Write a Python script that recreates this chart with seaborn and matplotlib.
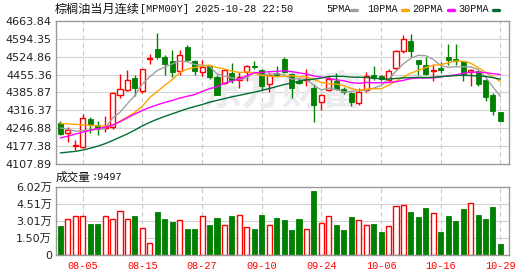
import numpy as np
import pandas as pd
import matplotlib
matplotlib.use("Agg")
import matplotlib.pyplot as plt
from matplotlib.lines import Line2D
import seaborn as sns

# ---------------- data ----------------
dates_ticks = ["08-05", "08-15", "08-27", "09-10", "09-24", "10-06", "10-16", "10-29"]
tick_idx = [3, 11, 19, 27, 35, 43, 51, 59]

opens = [4267.3, 4227.1, 4177.9, 4175.2, 4282.8, 4260.8, 4247.9, 4250.4, 4377.4, 4396.9,
         4442.2, 4390.4, 4517.4, 4555.0, 4523.9, 4509.6, 4468.2, 4561.5, 4507.0, 4464.3,
         4487.6, 4446.1, 4422.8, 4460.4, 4433.2, 4464.3, 4489.5, 4473.4, 4417.6, 4460.0,
         4516.1, 4456.5, 4431.9, 4434.5, 4402.1, 4347.7, 4395.6, 4429.3, 4400.8, 4383.9,
         4345.0, 4396.9, 4452.6, 4450.0, 4433.2, 4481.1, 4548.5, 4584.8, 4510.9, 4491.5,
         4470.7, 4481.1, 4522.6, 4516.1, 4507.0, 4464.3, 4468.2, 4434.5, 4377.4, 4310.1]
highs = [4274.0, 4250.5, 4202.5, 4302.0, 4290.6, 4273.8, 4295.8, 4387.8, 4457.8, 4473.3,
         4455.2, 4478.0, 4535.5, 4617.2, 4530.0, 4549.8, 4552.4, 4571.8, 4513.5, 4511.0,
         4492.8, 4452.6, 4474.6, 4499.3, 4466.9, 4494.1, 4509.7, 4477.3, 4464.3, 4489.0,
         4525.2, 4462.0, 4444.0, 4476.0, 4417.6, 4380.0, 4448.7, 4461.7, 4409.0, 4388.0,
         4403.4, 4465.6, 4487.6, 4455.0, 4478.5, 4550.0, 4610.7, 4614.6, 4512.0, 4523.9,
         4496.7, 4505.0, 4574.4, 4574.4, 4509.0, 4477.2, 4470.0, 4440.0, 4383.9, 4310.1]
lows = [4219.4, 4193.4, 4163.6, 4170.0, 4228.4, 4221.9, 4232.3, 4244.0, 4364.5, 4393.0,
        4371.0, 4383.9, 4496.7, 4517.4, 4452.6, 4446.1, 4455.2, 4507.0, 4455.2, 4448.7,
        4440.0, 4376.0, 4420.2, 4422.8, 4403.4, 4429.3, 4476.0, 4395.6, 4389.1, 4450.0,
        4460.0, 4363.2, 4417.0, 4411.2, 4269.9, 4319.1, 4390.0, 4396.0, 4380.0, 4334.7,
        4336.0, 4388.0, 4436.0, 4429.3, 4429.0, 4474.6, 4540.7, 4523.9, 4455.2, 4455.2,
        4431.9, 4460.0, 4494.1, 4494.0, 4429.3, 4412.4, 4412.4, 4351.5, 4299.7, 4276.4]
closes = [4225.8, 4240.1, 4181.8, 4286.0, 4264.7, 4244.0, 4253.0, 4382.6, 4399.5, 4434.5,
          4403.4, 4477.2, 4521.3, 4522.6, 4498.0, 4464.3, 4530.4, 4513.5, 4468.2, 4483.7,
          4447.4, 4377.4, 4472.0, 4435.8, 4444.8, 4487.6, 4486.0, 4412.5, 4453.9, 4455.0,
          4464.3, 4402.1, 4424.1, 4438.4, 4337.3, 4376.2, 4438.4, 4399.5, 4387.8, 4348.9,
          4387.8, 4448.7, 4442.2, 4438.4, 4468.2, 4545.9, 4593.9, 4548.5, 4496.7, 4459.1,
          4473.3, 4474.6, 4513.5, 4509.6, 4459.1, 4472.0, 4420.2, 4369.7, 4315.3, 4276.4]
# volume in 万
volumes = [2.56, 3.15, 3.44, 3.44, 2.73, 2.73, 3.44, 3.15, 3.85, 3.15,
           3.44, 2.35, 1.03, 3.79, 3.17, 2.91, 3.06, 2.29, 2.29, 3.44,
           2.64, 3.26, 2.62, 3.44, 3.53, 2.44, 2.29, 3.53, 2.62, 3.26,
           3.06, 2.20, 3.15, 2.26, 5.64, 2.79, 3.41, 2.64, 2.20, 3.35,
           3.06, 2.62, 2.73, 2.03, 2.53, 4.29, 4.38, 3.79, 3.35, 4.14,
           3.67, 2.00, 3.41, 3.00, 4.05, 4.56, 3.53, 3.17, 4.23, 0.95]

# moving-average values before the window is complete
ma5_lead = [4248, 4243, 4236, 4238]
ma10_lead = [4265, 4264, 4262, 4260, 4258, 4256, 4255, 4258, 4275]
ma20_lead = [4209, 4216, 4224, 4232, 4239, 4245, 4251, 4259, 4272, 4288,
             4302, 4316, 4328, 4338, 4347, 4355, 4364, 4371, 4378]
ma30_lead = [4151, 4154, 4157, 4162, 4169, 4177, 4187, 4199, 4212, 4225,
             4240, 4256, 4270, 4282, 4293, 4303, 4313, 4323, 4331, 4339,
             4348, 4355, 4362, 4369, 4375, 4381, 4387, 4394, 4401]

price_ticks = [4107.89, 4177.38, 4246.88, 4316.37, 4385.87, 4455.36, 4524.86, 4594.35, 4663.84]
vol_ticks = [0, 1.505, 3.01, 4.515, 6.02]
vol_tick_labels = ["0", "1.50万", "3.01万", "4.51万", "6.02万"]

title_cn = "棕榈油当月连续"
title_rest = "[MPM00Y] 2025-10-28 22:50"
watermark = "东方财富"

# ---------------- styling ----------------
sns.set_theme(style="white")
plt.rcParams["font.family"] = ["DejaVu Sans", "Noto Sans CJK SC"]

RED = "#ff0000"
GREEN = "#008000"
GRID = "#d2d2d2"
BORDER = "#9a9a9a"

W, H = 530, 276
fig = plt.figure(figsize=(W / 100, H / 100), dpi=100, facecolor="white")

def fx(x):
    return x / W

def fy(y):
    return 1 - y / H

ax_p = fig.add_axes([fx(56), fy(164), 453 / W, 143 / H])
ax_v = fig.add_axes([fx(56), fy(255), 453 / W, 68.3 / H])

n = len(closes)
idx = np.arange(n)
o = np.array(opens); c = np.array(closes); hi = np.array(highs); lo = np.array(lows)
up = c >= o

def mov(n_win, lead):
    s = pd.Series(closes).rolling(n_win).mean()
    s.iloc[:n_win - 1] = lead
    return s.values

ma = {
    "MA5": (mov(5, ma5_lead), "#a0a0a0"),
    "MA10": (mov(10, ma10_lead), "#ffa500"),
    "MA20": (mov(20, ma20_lead), "#ff00ff"),
    "MA30": (mov(30, ma30_lead), "#006e32"),
}

xlim = (-0.58, 60.15)

for ax in (ax_p, ax_v):
    ax.set_xlim(*xlim)
    ax.set_facecolor("white")
    for s in ax.spines.values():
        s.set_color(BORDER)
        s.set_linewidth(1.0)
    for t in tick_idx:
        ax.axvline(t, color="#c8c8c8", lw=0.8, ls=(0, (4, 3)), zorder=0)

# price panel
ax_p.set_ylim(price_ticks[0], price_ticks[-1])
for v in price_ticks[1:-1]:
    ax_p.axhline(v, color=GRID, lw=0.8, zorder=0)
ax_p.set_yticks(price_ticks)
ax_p.set_yticklabels([f"{v:.2f}" for v in price_ticks])
ax_p.set_xticks([])
ax_p.tick_params(axis="y", length=0, pad=3, labelsize=8, colors="#222222")

ax_p.text(0.5, 0.5, watermark, transform=ax_p.transAxes, fontsize=29, fontweight="bold",
          color="#ececf0", ha="center", va="center", zorder=0.5,
          family=["Noto Sans CJK SC"])

bw = 0.68
ax_p.vlines(idx[up], lo[up], hi[up], color=RED, lw=1.0, zorder=1)
ax_p.vlines(idx[~up], lo[~up], hi[~up], color=GREEN, lw=1.0, zorder=1)
body_lo = np.minimum(o, c)
body_h = np.maximum(np.abs(c - o), 2.0)
ax_p.bar(idx[up], body_h[up], bottom=body_lo[up], width=bw, facecolor="white",
         edgecolor=RED, linewidth=1.0, zorder=2)
ax_p.bar(idx[~up], body_h[~up], bottom=body_lo[~up], width=bw, facecolor=GREEN,
         edgecolor=GREEN, linewidth=0.6, zorder=2)

for name, (vals, col) in ma.items():
    sns.lineplot(x=idx, y=vals, ax=ax_p, color=col, lw=1.0, zorder=3, legend=False)
ax_p.set_xlabel(""); ax_p.set_ylabel("")
ax_p.set_xlim(*xlim)

# volume panel
vol = np.array(volumes)
ax_v.set_ylim(0, 6.02)
for v in vol_ticks[1:-1]:
    ax_v.axhline(v, color=GRID, lw=0.8, zorder=0)
ax_v.bar(idx[up], vol[up], width=bw, facecolor="white", edgecolor=RED, linewidth=1.0, zorder=2)
ax_v.bar(idx[~up], vol[~up], width=bw, facecolor=GREEN, edgecolor=GREEN, linewidth=0.6, zorder=2)
ax_v.set_yticks(vol_ticks)
ax_v.set_yticklabels(vol_tick_labels)
ax_v.tick_params(axis="y", length=0, pad=3, labelsize=8, colors="#222222")
ax_v.set_xticks(tick_idx)
ax_v.set_xticklabels(dates_ticks, family=["Liberation Mono"], fontsize=7.3, color=RED)
ax_v.tick_params(axis="x", length=0, pad=4)

# texts
fig.text(fx(55), fy(9), title_cn, fontsize=8.7, family=["Noto Sans CJK SC"],
         va="center", ha="left", color="#111111")
fig.text(fx(140), fy(9), title_rest, fontsize=7.3, family=["Liberation Mono"],
         va="center", ha="left", color="#111111")
fig.text(fx(56), fy(177.5), "成交量", fontsize=8.4, family=["Noto Sans CJK SC"],
         va="center", ha="left", color="#111111")
fig.text(fx(92), fy(177.5), ":9497", fontsize=7.3, family=["Liberation Mono"],
         va="center", ha="left", color="#111111")

legend_items = [("5PMA", 326, 351, "#a0a0a0"), ("10PMA", 367, 402, "#ffa500"),
                ("20PMA", 412, 448, "#ff00ff"), ("30PMA", 458, 493, "#006e32")]
for lab, tx, dx, col in legend_items:
    fig.text(fx(tx), fy(9), lab, fontsize=7.3, family=["Liberation Mono"],
             va="center", ha="left", color="#111111")
    fig.add_artist(Line2D([fx(dx), fx(dx + 6)], [fy(9.5), fy(9.5)], color=col, lw=2.4,
                          transform=fig.transFigure))

fig.savefig("out.png", dpi=100, facecolor="white")
